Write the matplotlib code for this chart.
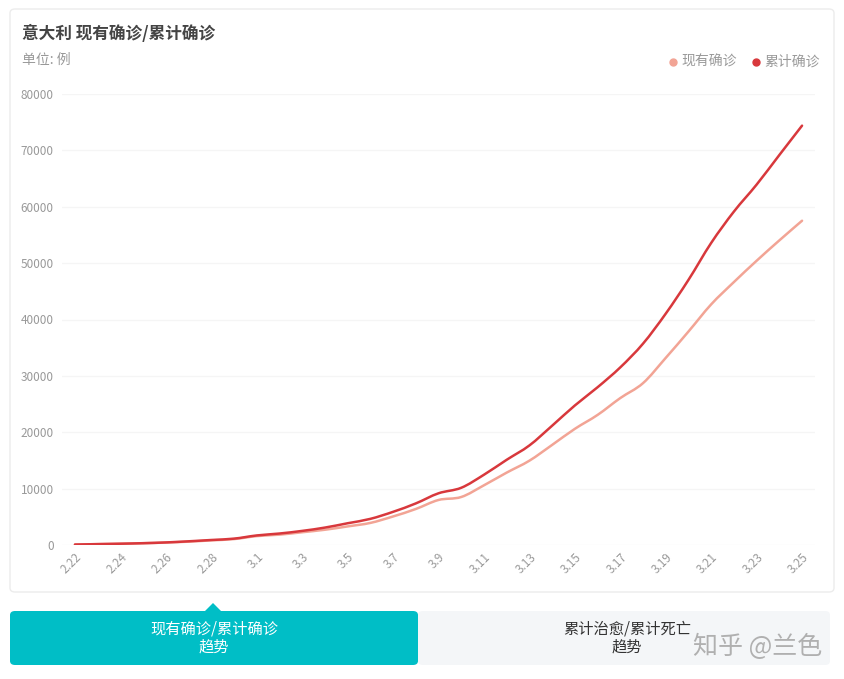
import matplotlib.pyplot as plt
from matplotlib.patches import FancyBboxPatch, Polygon, PathPatch
from matplotlib.path import Path

plt.rcParams['font.family'] = ['Noto Sans CJK SC', 'DejaVu Sans']

dates = ['2.22', '2.23', '2.24', '2.25', '2.26', '2.27', '2.28', '2.29',
         '3.1', '3.2', '3.3', '3.4', '3.5', '3.6', '3.7', '3.8', '3.9', '3.10',
         '3.11', '3.12', '3.13', '3.14', '3.15', '3.16', '3.17', '3.18', '3.19',
         '3.20', '3.21', '3.22', '3.23', '3.24', '3.25']
# 现有确诊
active = [76, 152, 221, 311, 438, 593, 821, 1049,
          1577, 1835, 2263, 2706, 3296, 3916, 5061, 6387, 7985, 8514,
          10590, 12839, 14955, 17750, 20603, 23073, 26062, 28710, 33190,
          37860, 42681, 46638, 50418, 54030, 57521]
# 累计确诊
total = [79, 157, 229, 322, 453, 655, 888, 1128,
         1694, 2036, 2502, 3089, 3858, 4636, 5883, 7375, 9172, 10149,
         12462, 15113, 17660, 21157, 24747, 27980, 31506, 35713, 41035,
         47021, 53578, 59138, 63927, 69176, 74386]
yticks = [0, 10000, 20000, 30000, 40000, 50000, 60000, 70000, 80000]

c_active = '#f2a495'
c_total = '#d8383c'
teal = '#00bec6'

fig = plt.figure(figsize=(8.45, 6.79), dpi=100)
W, H = 845, 679

def box(x0, y0, x1, y1, **kw):
    # pixel coords from top-left
    p = FancyBboxPatch((x0 / W, 1 - y1 / H), (x1 - x0) / W, (y1 - y0) / H,
                       boxstyle='round,pad=0,rounding_size=0.006',
                       transform=fig.transFigure, zorder=-2, **kw)
    fig.add_artist(p)

def smooth_line(ax, xs, ys, **kw):
    # cubic bezier through the points (like echarts smooth: true)
    verts = [(xs[0], ys[0])]
    codes = [Path.MOVETO]
    n = len(xs)
    for i in range(n - 1):
        x0, y0 = xs[max(i - 1, 0)], ys[max(i - 1, 0)]
        x1, y1 = xs[i], ys[i]
        x2, y2 = xs[i + 1], ys[i + 1]
        x3, y3 = xs[min(i + 2, n - 1)], ys[min(i + 2, n - 1)]
        verts += [(x1 + (x2 - x0) / 6, y1 + (y2 - y0) / 6),
                  (x2 - (x3 - x1) / 6, y2 - (y3 - y1) / 6),
                  (x2, y2)]
        codes += [Path.CURVE4] * 3
    ax.add_patch(PathPatch(Path(verts, codes), facecolor='none', capstyle='round', **kw))

box(10, 9, 834, 592, facecolor='white', edgecolor='#ececec', lw=1)
box(418, 611, 830, 665, facecolor='#f4f6f8', edgecolor='none')
box(10, 611, 418, 665, facecolor=teal, edgecolor='none')
fig.add_artist(Polygon([(205 / W, 1 - 611 / H), (221 / W, 1 - 611 / H), (213 / W, 1 - 603 / H)],
                       closed=True, transform=fig.transFigure, facecolor=teal, edgecolor='none'))

fig.text(22 / W, 1 - 34 / H, '意大利 现有确诊/累计确诊', fontsize=12, fontweight='bold',
         color='#444444', va='center', ha='left')
fig.text(22 / W, 1 - 60 / H, '单位: 例', fontsize=10, color='#999999', va='center', ha='left')

# legend
fig.add_artist(plt.Line2D([673 / W], [1 - 62 / H], marker='o', ms=5, color=c_active,
                          transform=fig.transFigure))
fig.text(681 / W, 1 - 62 / H, '现有确诊', fontsize=10, color='#999999', va='center', ha='left')
fig.add_artist(plt.Line2D([756 / W], [1 - 62 / H], marker='o', ms=5, color=c_total,
                          transform=fig.transFigure))
fig.text(764 / W, 1 - 62 / H, '累计确诊', fontsize=10, color='#999999', va='center', ha='left')

ax = fig.add_axes([62 / W, 134 / H, 753 / W, 451 / H])
ax.set_facecolor('none')
x = list(range(len(dates)))
smooth_line(ax, x, active, edgecolor=c_active, lw=1.8)
smooth_line(ax, x, total, edgecolor=c_total, lw=1.8)
ax.set_xlim(-0.57, len(dates) - 1 + 0.57)
ax.set_ylim(0, 80000)
ax.set_yticks(yticks)
ax.set_yticklabels([str(v) for v in yticks], fontsize=8.5, color='#999999')
ax.set_xticks(x[::2])
ax.set_xticklabels(dates[::2], fontsize=8.5, color='#999999', rotation=45,
                   ha='right', va='top', rotation_mode='anchor')
ax.tick_params(axis='both', length=0)
ax.tick_params(axis='y', pad=6)
ax.tick_params(axis='x', pad=4)
ax.grid(axis='y', color='#f5f5f5', lw=1)
ax.set_axisbelow(True)
for s in ax.spines.values():
    s.set_visible(False)

fig.text(214 / W, 1 - 629 / H, '现有确诊/累计确诊', fontsize=11, color='white', ha='center', va='center')
fig.text(214 / W, 1 - 647 / H, '趋势', fontsize=11, color='white', ha='center', va='center')
fig.text(627 / W, 1 - 629 / H, '累计治愈/累计死亡', fontsize=11, color='#333333', ha='center', va='center')
fig.text(627 / W, 1 - 647 / H, '趋势', fontsize=11, color='#333333', ha='center', va='center')
fig.text(758 / W, 1 - 647 / H, '知乎 @兰色', fontsize=18, color='#b0b0b0', ha='center', va='center')

fig.savefig('out.png', dpi=100)
